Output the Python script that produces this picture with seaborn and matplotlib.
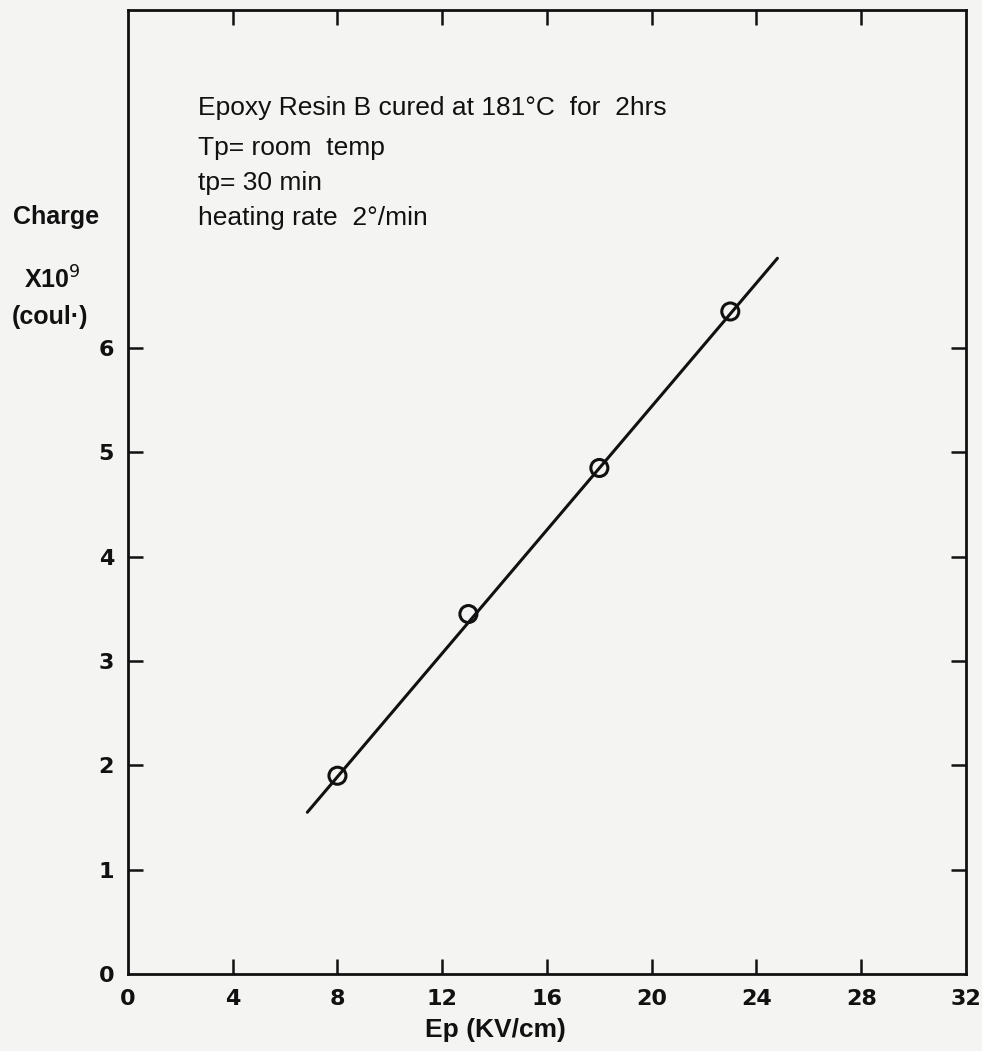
import matplotlib
matplotlib.use("Agg")
import matplotlib.pyplot as plt
import seaborn as sns
import pandas as pd

# measured points (Ep in KV/cm, charge x 1e9 coul)
ep_kv = [8, 13, 18, 23]
charge = [1.90, 3.45, 4.85, 6.35]

# hand-drawn straight line through the points
fit_ep = [6.85, 24.8]
fit_charge = [1.55, 6.86]

x_ticks = [0, 4, 8, 12, 16, 20, 24, 28, 32]
y_ticks = [0, 1, 2, 3, 4, 5, 6]

notes = [
    "Epoxy Resin B cured at 181°C  for  2hrs",
    "Tp= room  temp",
    "tp= 30 min",
    "heating rate  2°/min",
]
note_rows = [108, 148, 183, 218]   # pixel rows of the note lines

sns.set_theme(style="white")
plt.rcParams["font.family"] = ["Liberation Sans", "DejaVu Sans"]

paper = "#f4f4f3"
fig = plt.figure(figsize=(9.82, 10.51), dpi=100, facecolor=paper)
ax = fig.add_axes([0.1303, 0.0733, 0.8534, 0.9172])
ax.set_facecolor(paper)

pts = pd.DataFrame({"ep": ep_kv, "q": charge})
fit = pd.DataFrame({"ep": fit_ep, "q": fit_charge})

sns.lineplot(data=fit, x="ep", y="q", color="#111111", linewidth=2.2, ax=ax)
sns.scatterplot(data=pts, x="ep", y="q", marker="o", s=150, facecolor="none",
                edgecolor="#111111", linewidth=2.2, ax=ax, zorder=3)

ax.set_xlim(0, 32)
ax.set_ylim(0, 9.24)
ax.set_xticks(x_ticks)
ax.set_yticks(y_ticks)
ax.set_xticklabels([str(t) for t in x_ticks], family="DejaVu Sans", fontweight="bold")
ax.set_yticklabels([str(t) for t in y_ticks], family="DejaVu Sans", fontweight="bold")
ax.tick_params(axis="both", direction="in", length=11, width=1.8, labelsize=16,
               color="#111111", labelcolor="#111111")
ax.tick_params(axis="x", pad=11, top=True, bottom=True)
ax.tick_params(axis="y", pad=10, right=True, left=True)
ax.set_xlabel("")
ax.set_ylabel("")

for side in ax.spines.values():
    side.set_visible(True)
    side.set_linewidth(2.0)
    side.set_color("#111111")

# no ticks at the corners
ax.xaxis.get_major_ticks()[0].tick1line.set_visible(False)
ax.xaxis.get_major_ticks()[0].tick2line.set_visible(False)
ax.xaxis.get_major_ticks()[-1].tick1line.set_visible(False)
ax.xaxis.get_major_ticks()[-1].tick2line.set_visible(False)
ax.yaxis.get_major_ticks()[0].tick1line.set_visible(False)
ax.yaxis.get_major_ticks()[0].tick2line.set_visible(False)

for line, row in zip(notes, note_rows):
    fig.text(198 / 982, 1 - row / 1051, line, fontsize=19, color="#111111",
             va="center", ha="left")

fig.text(56 / 982, 1 - 217 / 1051, "Charge", fontsize=18, fontweight="bold",
         color="#111111", ha="center", va="center")
fig.text(52 / 982, 1 - 280 / 1051, r"X10$^{9}$", fontsize=18, fontweight="bold",
         color="#111111", ha="center", va="center")
fig.text(50 / 982, 1 - 317 / 1051, "(coul·)", fontsize=18, fontweight="bold",
         color="#111111", ha="center", va="center")
fig.text(495 / 982, 1 - 1030 / 1051, "Ep (KV/cm)", fontsize=19, fontweight="bold",
         color="#111111", ha="center", va="center")

fig.savefig("out.png", dpi=100, facecolor=paper)
